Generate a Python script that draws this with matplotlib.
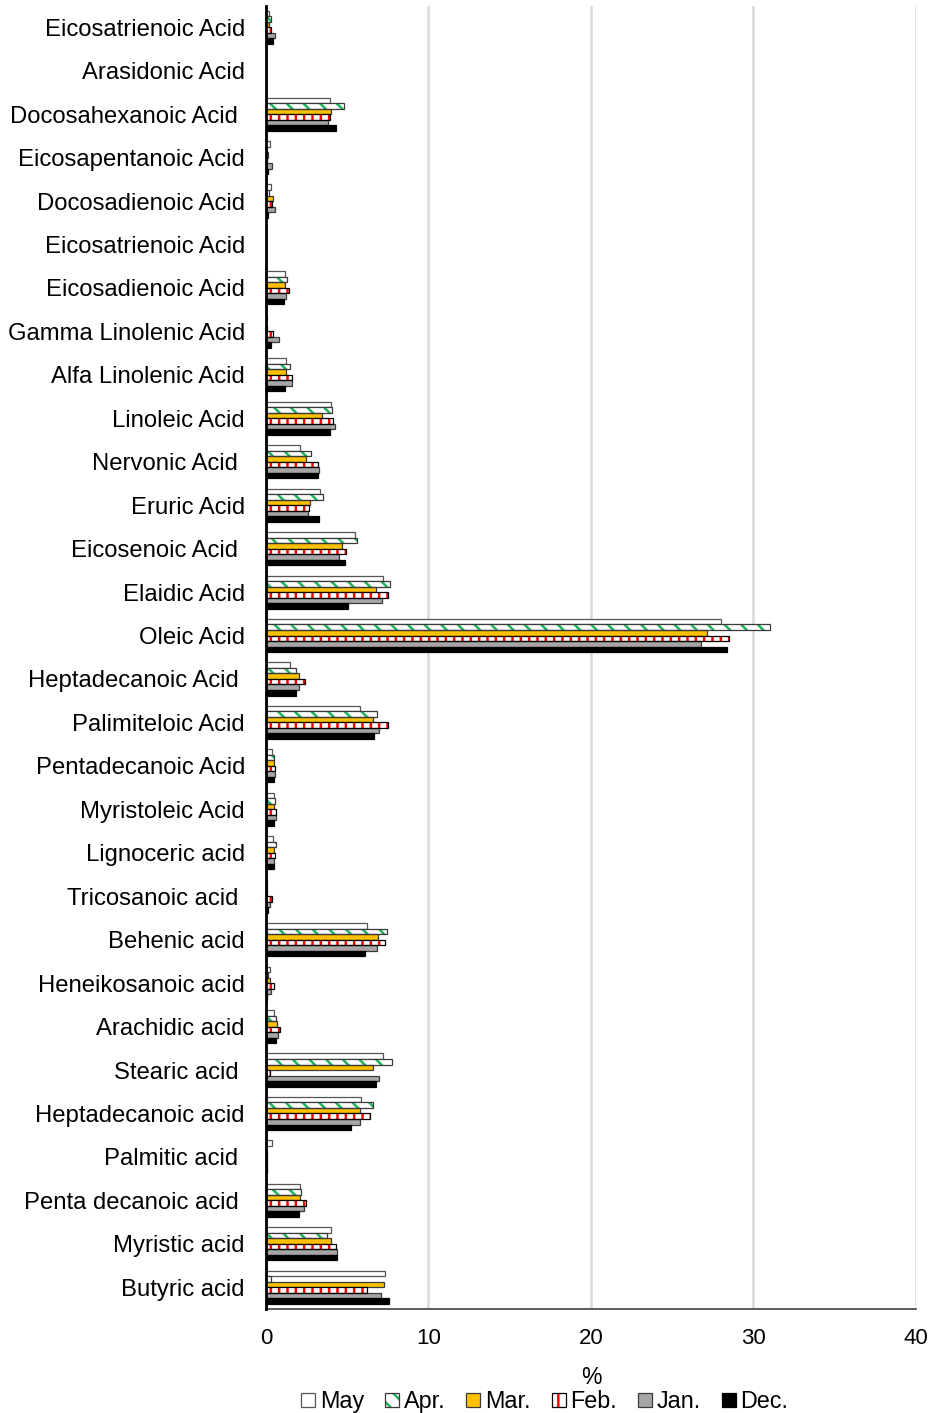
import numpy as np
import matplotlib
matplotlib.use("Agg")
import matplotlib.pyplot as plt
from matplotlib.patches import Patch

plt.rcParams['font.family'] = ['Liberation Sans', 'DejaVu Sans']
plt.rcParams['hatch.linewidth'] = 1.8

# categories listed from top to bottom as in the chart
acids = ["Eicosatrienoic Acid", "Arasidonic Acid", "Docosahexanoic Acid ",
         "Eicosapentanoic Acid", "Docosadienoic Acid", "Eicosatrienoic Acid",
         "Eicosadienoic Acid", "Gamma Linolenic Acid", "Alfa Linolenic Acid",
         "Linoleic Acid", "Nervonic Acid ", "Eruric Acid", "Eicosenoic Acid ",
         "Elaidic Acid", "Oleic Acid", "Heptadecanoic Acid ", "Palimiteloic Acid",
         "Pentadecanoic Acid", "Myristoleic Acid", "Lignoceric acid",
         "Tricosanoic acid ", "Behenic acid", "Heneikosanoic acid",
         "Arachidic acid", "Stearic acid ", "Heptadecanoic acid",
         "Palmitic acid ", "Penta decanoic acid ", "Myristic acid", "Butyric acid"]

may = [0.17, 0, 3.94, 0.25, 0.29, 0, 1.21, 0.05, 1.27, 3.98,
       2.11, 3.36, 5.46, 7.18, 27.98, 1.50, 5.80, 0.39, 0.51, 0.45,
       0.08, 6.24, 0.27, 0.53, 7.18, 5.83, 0.39, 2.13, 3.98, 7.36]
apr = [0.31, 0, 4.78, 0.05, 0.20, 0, 1.31, 0.03, 1.48, 4.08,
       2.81, 3.49, 5.64, 7.65, 31.00, 1.83, 6.85, 0.49, 0.57, 0.64,
       0.05, 7.47, 0.16, 0.62, 7.77, 6.60, 0.03, 2.17, 3.77, 0.31]
mar = [0.20, 0, 3.98, 0.14, 0.47, 0, 1.15, 0.05, 1.23, 3.43,
       2.50, 2.69, 4.66, 6.75, 27.16, 2.05, 6.60, 0.51, 0.51, 0.53,
       0.05, 6.91, 0.27, 0.68, 6.57, 5.80, 0.05, 2.11, 4.02, 7.26]
feb = [0.30, 0, 3.92, 0.05, 0.39, 0, 1.40, 0.45, 1.62, 4.14,
       3.24, 2.67, 4.94, 7.53, 28.51, 2.42, 7.51, 0.57, 0.62, 0.59,
       0.35, 7.32, 0.49, 0.88, 0.23, 6.42, 0.05, 2.48, 4.33, 6.22]
jan = [0.57, 0, 3.80, 0.37, 0.57, 0, 1.27, 0.80, 1.62, 4.25,
       3.28, 2.60, 4.53, 7.12, 26.75, 2.05, 6.97, 0.57, 0.64, 0.53,
       0.27, 6.87, 0.33, 0.76, 6.95, 5.78, 0.08, 2.36, 4.35, 7.08]
dec = [0.47, 0, 4.29, 0.12, 0.14, 0, 1.11, 0.33, 1.19, 3.94,
       3.20, 3.26, 4.90, 5.07, 28.37, 1.83, 6.63, 0.49, 0.53, 0.49,
       0.12, 6.11, 0.10, 0.62, 6.77, 5.21, 0.10, 2.05, 4.35, 7.57]

months = ["May", "Apr.", "Mar.", "Feb.", "Jan.", "Dec."]
series = [may, apr, mar, feb, jan, dec]

fig = plt.figure(figsize=(9.36, 14.13), dpi=100)
ax = fig.add_axes([0.284, 0.0736, 0.6946, 0.9225])

n = len(acids)
y = np.arange(n)[::-1]          # first category at the top
h = 0.127
edge = '#3a3a3a'
green = '#1fb45a'

handles = []
for i, (name, vals) in enumerate(zip(months, series)):
    pos = y + (2.5 - i) * h
    if name == "May":
        ax.barh(pos, vals, h, color='white', edgecolor='#555555', lw=0.9, zorder=3)
        handles.append(Patch(facecolor='white', edgecolor='#555555', lw=0.9))
    elif name == "Apr.":
        ax.barh(pos, vals, h, color='white', edgecolor=green, hatch='\\\\', lw=0, zorder=3)
        ax.barh(pos, vals, h, fill=False, edgecolor=edge, lw=0.9, zorder=4)
        handles.append((Patch(facecolor='white', edgecolor=green, hatch='\\\\', lw=0),
                        Patch(fill=False, edgecolor=edge, lw=0.9)))
    elif name == "Mar.":
        ax.barh(pos, vals, h, color='#FFC000', edgecolor=edge, lw=0.9, zorder=3)
        handles.append(Patch(facecolor='#FFC000', edgecolor=edge, lw=0.9))
    elif name == "Feb.":
        ax.barh(pos, vals, h, color='white', edgecolor='#ff0000', hatch='||', lw=0, zorder=3)
        ax.barh(pos, vals, h, fill=False, edgecolor='black', lw=0.9, zorder=4)
        handles.append((Patch(facecolor='white', edgecolor='#ff0000', hatch='|', lw=0),
                        Patch(fill=False, edgecolor='black', lw=0.9)))
    elif name == "Jan.":
        ax.barh(pos, vals, h, color='#A6A6A6', edgecolor=edge, lw=0.9, zorder=3)
        handles.append(Patch(facecolor='#A6A6A6', edgecolor=edge, lw=0.9))
    else:
        ax.barh(pos, vals, h, color='black', edgecolor='black', lw=0.9, zorder=3)
        handles.append(Patch(facecolor='black', edgecolor='black', lw=0.9))

ax.set_xlim(0, 40)
ax.set_ylim(-0.5, n - 0.5)
ax.set_xticks([0, 10, 20, 30, 40])
ax.set_yticks(y)
ax.set_yticklabels(acids, fontsize=17.2)
ax.tick_params(axis='x', labelsize=16, length=0, pad=14)
ax.tick_params(axis='y', length=0, pad=15)
ax.xaxis.grid(True, color='#d9d9d9', lw=1.8, zorder=0)
ax.set_axisbelow(True)
for s in ['top', 'right']:
    ax.spines[s].set_visible(False)
ax.spines['left'].set_linewidth(2)
ax.spines['left'].set_zorder(5)
ax.spines['bottom'].set_linewidth(1.2)
ax.spines['bottom'].set_color('#404040')
ax.set_xlabel("%", fontsize=16.5, labelpad=12)

fig.legend(handles, months, loc='lower center', bbox_to_anchor=(0.582, -0.015),
           ncol=6, frameon=False, fontsize=16.8, handlelength=0.6,
           handleheight=0.6, handletextpad=0.2, columnspacing=0.9)

fig.savefig("out.png", dpi=100)
